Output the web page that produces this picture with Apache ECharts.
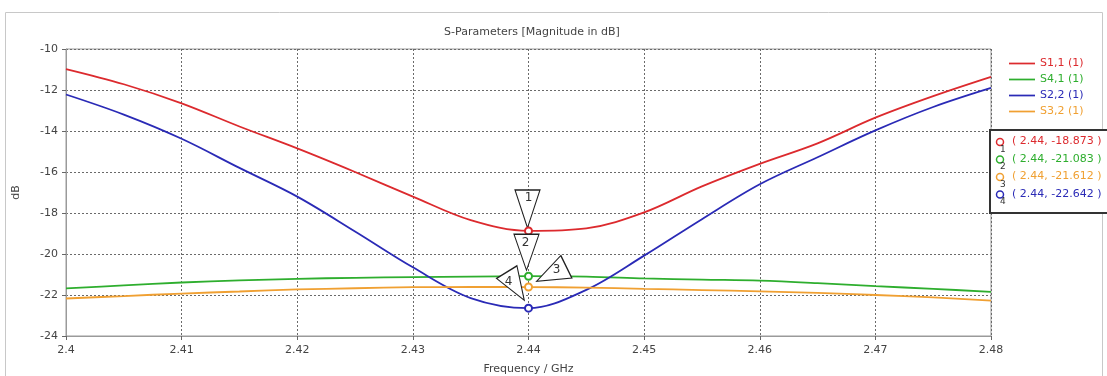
<!DOCTYPE html>
<html lang="en">
<head>
    <meta charset="UTF-8">
    <title>S-Parameters</title>
    <script src="https://cdn.jsdelivr.net/npm/echarts@6/dist/echarts.min.js"></script>
</head>
<body style="margin:0; background:#fff;">
<div id="main" style="width: 1107px; height: 376px;"></div>
<script type="text/javascript">
    // frequency points (GHz)
    const freq = [2.400, 2.405, 2.410, 2.415, 2.420, 2.425, 2.430, 2.435, 2.440,
                  2.445, 2.450, 2.455, 2.460, 2.465, 2.470, 2.475, 2.480];
    const s11 = [-10.98, -11.72, -12.65, -13.78, -14.85, -16.0, -17.2, -18.35, -18.873,
                 -18.75, -17.97, -16.7, -15.6, -14.6, -13.35, -12.3, -11.36];
    const s41 = [-21.68, -21.53, -21.39, -21.29, -21.21, -21.16, -21.13, -21.10, -21.083,
                 -21.10, -21.19, -21.25, -21.30, -21.42, -21.57, -21.70, -21.85];
    const s22 = [-12.22, -13.2, -14.38, -15.8, -17.2, -18.9, -20.65, -22.15, -22.642,
                 -21.75, -20.08, -18.3, -16.6, -15.28, -13.97, -12.83, -11.9];
    const s32 = [-22.17, -22.05, -21.93, -21.83, -21.73, -21.67, -21.62, -21.61, -21.612,
                 -21.64, -21.70, -21.76, -21.82, -21.90, -22.00, -22.12, -22.27];
    const seriesNames = ['S1,1 (1)', 'S4,1 (1)', 'S2,2 (1)', 'S3,2 (1)'];
    const markerFreq = 2.44;
    const markerValues = [-18.873, -21.083, -21.612, -22.642];
    const markerIds = ['1', '2', '3', '4'];

    const colors = ['#dc2a2e', '#2eae2e', '#2a2ab6', '#f0a032'];
    const fontFam = '"DejaVu Sans", Verdana, sans-serif';

    // triangle callouts: size, rotation, offset, label offset
    const callouts = [
        {size: [25, 38], rot: 180, off: [-1, -22], lab: [0, -33]},
        {size: [25, 36], rot: 180, off: [-2, -24], lab: [-3, -33]},
        {size: [25, 33], rot: 116, off: [23, -13], lab: [28, -17]},
        {size: [24, 33], rot: -148, off: [-13, -22], lab: [-20, -26]}
    ];

    function pairs(ys) {
        return freq.map((f, i) => [f, ys[i]]);
    }

    function markerData(idx, markerIdx) {
        const c = callouts[markerIdx];
        const coord = [markerFreq, markerValues[markerIdx]];
        return [
            {coord: coord, symbol: 'triangle', symbolSize: c.size, symbolRotate: c.rot,
             symbolOffset: c.off, itemStyle: {color: '#fff', borderColor: '#222', borderWidth: 1.2},
             label: {show: false}},
            {coord: coord, symbol: 'circle', symbolSize: 1, itemStyle: {color: 'rgba(0,0,0,0)'},
             label: {show: true, position: 'inside', offset: c.lab, formatter: markerIds[markerIdx],
                     color: '#333', fontSize: 12, fontFamily: fontFam}},
            {coord: coord, symbol: 'emptyCircle', symbolSize: 7,
             itemStyle: {color: colors[idx], borderColor: colors[idx], borderWidth: 1.5},
             label: {show: false}}
        ];
    }

    // which marker belongs to which series (series order: S11, S41, S22, S32)
    const markerOf = [0, 1, 3, 2];

    function makeSeries(name, ys, idx) {
        return {
            name: name,
            type: 'line',
            data: pairs(ys),
            smooth: 0.35,
            symbol: 'none',
            lineStyle: {color: colors[idx], width: 1.8},
            itemStyle: {color: colors[idx]},
            z: 2,
            markPoint: {
                silent: true,
                animation: false,
                data: markerData(idx, markerOf[idx])
            }
        };
    }

    function initChart() {
        const chart = echarts.init(document.getElementById('main'));
        const allSeries = [s11, s41, s22, s32];
        const markerColors = [colors[0], colors[1], colors[3], colors[2]];

        // outer frame + marker readout box
        const graphics = [
            {type: 'rect', shape: {x: 5.5, y: 12.5, width: 1097, height: 380},
             style: {fill: 'none', stroke: '#c8c8c8', lineWidth: 1}, z: -1},
            {type: 'rect', shape: {x: 990, y: 130, width: 125, height: 83},
             style: {fill: '#fff', stroke: '#333', lineWidth: 2}, z: 10}
        ];
        markerValues.forEach((v, i) => {
            const y = 142 + i * 17.5;
            graphics.push({type: 'circle', shape: {cx: 1000, cy: y, r: 3.5},
                style: {fill: 'none', stroke: markerColors[i], lineWidth: 1.5}, z: 11});
            graphics.push({type: 'text', x: 1000, y: y + 3,
                style: {text: markerIds[i], fill: '#333', font: '9px ' + fontFam}, z: 11});
            graphics.push({type: 'text', x: 1012, y: y - 6,
                style: {text: '( ' + markerFreq + ', ' + v + ' )', fill: markerColors[i],
                        font: '11px ' + fontFam}, z: 11});
        });

        const option = {
            animation: false,
            color: colors,
            title: {
                text: 'S-Parameters [Magnitude in dB]',
                left: 527, top: 22, textAlign: 'center',
                textStyle: {fontSize: 11, fontWeight: 'normal', color: '#444', fontFamily: fontFam}
            },
            legend: {
                orient: 'vertical',
                left: 1004, top: 53,
                itemWidth: 26, itemHeight: 14, itemGap: 5,
                icon: 'path://M0,6 L30,6 L30,8 L0,8 Z',
                data: seriesNames.map((n, i) => ({name: n, textStyle: {color: colors[i]}})),
                textStyle: {fontSize: 11, fontFamily: fontFam}
            },
            grid: {
                left: 66, right: 116, top: 49, bottom: 40,
                outerBoundsMode: 'none',
                show: true, borderColor: '#9a9a9a', borderWidth: 1
            },
            xAxis: {
                type: 'value', min: 2.4, max: 2.48, interval: 0.01,
                name: 'Frequency / GHz', nameLocation: 'middle', nameGap: 28,
                nameTextStyle: {fontSize: 11, color: '#444', fontFamily: fontFam},
                axisLine: {lineStyle: {color: '#9a9a9a'}},
                axisTick: {show: true, length: 4, lineStyle: {color: '#666'}},
                axisLabel: {fontSize: 11, color: '#444', fontFamily: fontFam, margin: 9,
                            formatter: v => String(parseFloat(v.toFixed(2)))},
                splitLine: {show: true, lineStyle: {color: '#6a6a6a', type: [2, 2], width: 1}}
            },
            yAxis: {
                type: 'value', min: -24, max: -10, interval: 2,
                name: 'dB', nameLocation: 'middle', nameGap: 44,
                nameTextStyle: {fontSize: 11, color: '#444', fontFamily: fontFam},
                axisLine: {show: true, lineStyle: {color: '#9a9a9a'}},
                axisTick: {show: true, length: 4, lineStyle: {color: '#666'}},
                axisLabel: {fontSize: 11, color: '#444', fontFamily: fontFam, margin: 8},
                splitLine: {show: true, lineStyle: {color: '#6a6a6a', type: [2, 2], width: 1}}
            },
            series: seriesNames.map((n, i) => makeSeries(n, allSeries[i], i)),
            graphic: graphics
        };
        chart.setOption(option);
    }

    initChart();
</script>
</body>
</html>
